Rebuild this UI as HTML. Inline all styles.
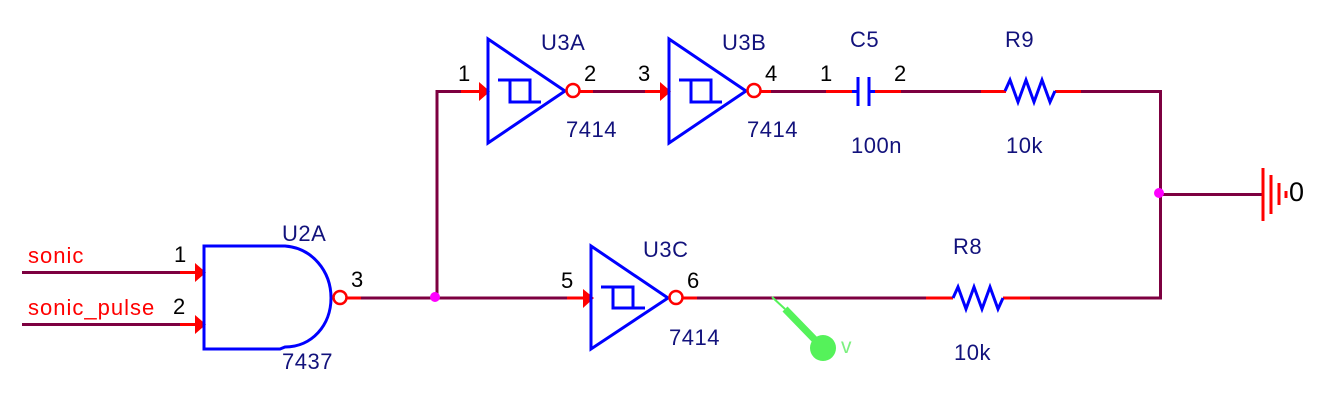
<!DOCTYPE html>
<html>
<head>
<meta charset="utf-8">
<style>
html,body{margin:0;padding:0;background:#fff}
svg{display:block}
text{font-family:"Liberation Sans",Arial,sans-serif;font-size:22px;letter-spacing:.5px}
.n{fill:#12127c}
.k text{fill:#000;font-size:22px;letter-spacing:0}
.r text{fill:#f00;letter-spacing:1px}
.w{stroke:#7d0040;stroke-width:3;fill:none}
.p{stroke:#f00;stroke-width:3;fill:none}
.b{stroke:#00f;stroke-width:3;fill:none}
.c{stroke:#f00;stroke-width:2.5;fill:#fff}
</style>
</head>
<body>
<svg width="1321" height="410" viewBox="0 0 1321 410" xmlns="http://www.w3.org/2000/svg">
<rect width="1321" height="410" fill="#fff"/>

<!-- wires -->
<path class="w" d="M22 272.500H182M22 324.500H182"/>
<path class="w" d="M361 298H567M437 298V91.500H478"/>
<path class="w" d="M593 91.500H645M771 91.500H826M901 91.500H981M1081 91.500H1160.500V298H1030M697 298H926"/>
<path class="w" d="M1160 194.500H1264"/>

<!-- pins -->
<path class="p" d="M180 272.500H196M180 324.500H196M346 298H361"/>
<path class="p" d="M461 91.500H480M579 91.500H593M645 91.500H660M760 91.500H771"/>
<path class="p" d="M826 91.500H852M875 91.500H901M981 91.500H1006M1055 91.500H1081"/>
<path class="p" d="M567 298H585M682 298H697M926 298H953M1003 298H1030"/>

<!-- pin arrows -->
<g fill="#f00">
<polygon points="195,263 206,272.500 195,282"/>
<polygon points="195,315 206,324.500 195,334"/>
<polygon points="479,82 490,91.500 479,101"/>
<polygon points="660,82 671,91.500 660,101"/>
<polygon points="583,289 594,298 583,308"/>
</g>

<!-- U2A -->
<path class="b" d="M204 246H285C312 248 331 271 331 298C331 325 312 347 285 347L280 349H204Z"/>
<circle class="c" cx="340" cy="297.500" r="6.500"/>

<!-- U3A -->
<path class="b" d="M488 39V143L565 91Z"/>
<path class="b" d="M498 80H530V102M510 80V102H541"/>
<circle class="c" cx="573" cy="90.500" r="6.500"/>

<!-- U3B -->
<path class="b" d="M669 39V143L746 91Z"/>
<path class="b" d="M679 80H711V102M691 80V102H722"/>
<circle class="c" cx="754" cy="90.500" r="6.500"/>

<!-- U3C -->
<path class="b" d="M591 246V349L668 298Z"/>
<path class="b" d="M601 287H633V308M613 287V308H645"/>
<circle class="c" cx="676" cy="297.500" r="6.500"/>

<!-- C5 -->
<path class="b" d="M852 91.500H858M858 77V106M869 77V106M869 91.500H875"/>

<!-- R9 / R8 -->
<path class="b" d="M1005 91L1010 80L1018 102L1026 80L1034 102L1042 80L1050 102L1055 91"/>
<path class="b" d="M953 298L958 287L966 309L974 287L982 309L990 287L998 309L1003 298"/>

<!-- junctions -->
<circle cx="435" cy="297" r="5" fill="#f0f"/>
<circle cx="1159" cy="193" r="5" fill="#f0f"/>

<!-- ground -->
<path stroke="#f00" stroke-width="3" fill="none" d="M1263 168V221M1271 175V214M1279 183V205M1286 191V198"/>

<!-- probe -->
<path stroke="#55f25a" stroke-width="2" fill="none" d="M772 297L785 309"/>
<path stroke="#55f25a" stroke-width="7" fill="none" d="M785 309L818 343"/>
<circle cx="823" cy="348" r="13" fill="#55f25a"/>
<text x="841" y="353" style="font-size:21px;fill:#7df080;letter-spacing:0">v</text>

<!-- refdes/value -->
<g class="n">
<text x="282" y="241">U2A</text>
<text x="282" y="369">7437</text>
<text x="541" y="50">U3A</text>
<text x="566" y="137">7414</text>
<text x="722" y="50">U3B</text>
<text x="747" y="137">7414</text>
<text x="850" y="47">C5</text>
<text x="851" y="153">100n</text>
<text x="1005" y="47">R9</text>
<text x="1006" y="153">10k</text>
<text x="643" y="257">U3C</text>
<text x="669" y="345">7414</text>
<text x="953" y="254">R8</text>
<text x="954" y="360">10k</text>
</g>

<!-- nets -->
<g class="r">
<text x="28" y="263">sonic</text>
<text x="28" y="315">sonic_pulse</text>
</g>

<!-- pin numbers -->
<g class="k">
<text x="174" y="262">1</text>
<text x="173" y="314">2</text>
<text x="351" y="287">3</text>
<text x="458" y="81">1</text>
<text x="584" y="81">2</text>
<text x="638" y="81">3</text>
<text x="765" y="81">4</text>
<text x="820" y="81">1</text>
<text x="894" y="81">2</text>
<text x="561" y="288">5</text>
<text x="687" y="288">6</text>
<text x="1289" y="201" style="font-size:27px">0</text>
</g>
</svg>
</body>
</html>
